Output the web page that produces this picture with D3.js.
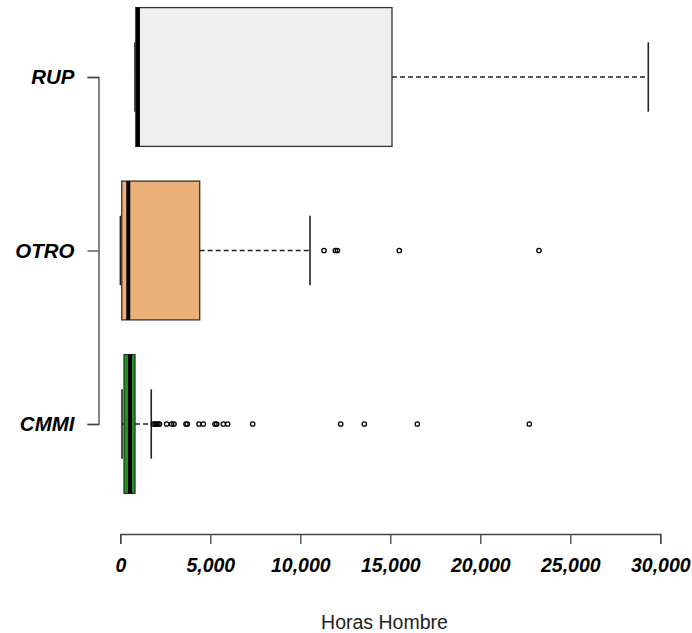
<!DOCTYPE html>
<html>
<head>
<meta charset="utf-8">
<script src="https://cdn.jsdelivr.net/npm/d3@7"></script>
<style>
  html, body { margin: 0; padding: 0; background: #ffffff; }
  svg { display: block; }
</style>
</head>
<body>
<svg id="chart" width="692" height="633"></svg>
<script>
// Horizontal box plot of man-hours by methodology
const categories = ["CMMI", "OTRO", "RUP"];
const whiskerLow  = [94, 5, 817];
const quartile1   = [206, 80, 860];
const medians     = [539, 444, 980];
const quartile3   = [817, 4411, 15094];
const whiskerHigh = [1720, 10539, 29333];
const outliersCMMI = [1844, 1928, 2011, 2094, 2178, 2578, 2856, 2983, 3650, 3722,
                      4372, 4611, 5261, 5356, 5722, 5967, 7356, 12244, 13556, 16500, 22722];
const outliersOTRO = [11317, 11950, 12060, 15500, 23261];
const outliersRUP  = [];
const outliers = [outliersCMMI, outliersOTRO, outliersRUP];
const fills = ["#1a961a", "#ebb078", "#f0f0f0"];
const xTicks = [0, 5000, 10000, 15000, 20000, 25000, 30000];
const xTitle = "Horas Hombre";

const svg = d3.select("#chart");
const font = "'Liberation Sans', Arial, sans-serif";

const x = d3.scaleLinear().domain([0, 30000]).range([120.3, 660.3]);
const y = d3.scaleLinear().domain([1, 3]).range([424, 77]);
const unit = Math.abs(y(2) - y(1));
const boxHalf = unit * 0.4;
const capHalf = unit * 0.2;
const axisY = 534;
const axisX = 98.5;

const rows = categories.map((c, i) => ({
  name: c, idx: i + 1,
  lo: whiskerLow[i], q1: quartile1[i], med: medians[i], q3: quartile3[i], hi: whiskerHigh[i],
  out: outliers[i], fill: fills[i]
}));

const g = svg.append("g");
const box = g.selectAll("g.box").data(rows).join("g").attr("class", "box");

// whiskers (dashed)
box.append("line")
  .attr("x1", d => x(d.q3)).attr("x2", d => x(d.hi))
  .attr("y1", d => y(d.idx)).attr("y2", d => y(d.idx))
  .attr("stroke", "#222").attr("stroke-width", 1.4).attr("stroke-dasharray", "5,3");
box.append("line")
  .attr("x1", d => x(d.lo)).attr("x2", d => x(d.q1))
  .attr("y1", d => y(d.idx)).attr("y2", d => y(d.idx))
  .attr("stroke", "#222").attr("stroke-width", 1.4).attr("stroke-dasharray", "5,3");

// whisker caps
box.append("line")
  .attr("x1", d => x(d.hi)).attr("x2", d => x(d.hi))
  .attr("y1", d => y(d.idx) - capHalf).attr("y2", d => y(d.idx) + capHalf)
  .attr("stroke", "#222").attr("stroke-width", 1.6);
box.append("line")
  .attr("x1", d => x(d.lo)).attr("x2", d => x(d.lo))
  .attr("y1", d => y(d.idx) - capHalf).attr("y2", d => y(d.idx) + capHalf)
  .attr("stroke", "#222").attr("stroke-width", 1.6);

// boxes
box.append("rect")
  .attr("x", d => x(d.q1)).attr("width", d => x(d.q3) - x(d.q1))
  .attr("y", d => y(d.idx) - boxHalf).attr("height", boxHalf * 2)
  .attr("fill", d => d.fill).attr("stroke", "#333").attr("stroke-width", 1.3);

// medians
box.append("line")
  .attr("x1", d => x(d.med)).attr("x2", d => x(d.med))
  .attr("y1", d => y(d.idx) - boxHalf).attr("y2", d => y(d.idx) + boxHalf)
  .attr("stroke", "#000").attr("stroke-width", 4);

// outliers
box.each(function(d) {
  d3.select(this).selectAll("circle").data(d.out).join("circle")
    .attr("cx", v => x(v)).attr("cy", y(d.idx)).attr("r", 2.2)
    .attr("fill", "none").attr("stroke", "#000").attr("stroke-width", 1.3);
});

// x axis
const xAxis = svg.append("g").attr("transform", `translate(0,${axisY})`)
  .call(d3.axisBottom(x).tickValues(xTicks).tickFormat(d3.format(",")).tickSizeOuter(0).tickSize(10).tickPadding(14));
xAxis.select(".domain").attr("stroke", "#444").attr("stroke-width", 1.3);
xAxis.selectAll(".tick line").attr("stroke", "#444").attr("stroke-width", 1.3);
xAxis.selectAll(".tick text")
  .attr("font-family", font).attr("font-size", 19.5).attr("font-weight", "bold")
  .attr("font-style", "italic").attr("fill", "#000");

// y axis
const yAxis = svg.append("g").attr("transform", `translate(${axisX},0)`)
  .call(d3.axisLeft(y).tickValues([1, 2, 3]).tickFormat(v => categories[v - 1])
    .tickSizeOuter(0).tickSize(11).tickPadding(13));
yAxis.select(".domain").attr("stroke", "#444").attr("stroke-width", 1.3);
yAxis.selectAll(".tick line").attr("stroke", "#444").attr("stroke-width", 1.3);
yAxis.selectAll(".tick text")
  .attr("font-family", font).attr("font-size", 20.5).attr("font-weight", "bold")
  .attr("font-style", "italic").attr("fill", "#000");

// axis title
svg.append("text")
  .attr("x", 384.5).attr("y", 629)
  .attr("text-anchor", "middle")
  .attr("font-family", font).attr("font-size", 19.5)
  .attr("fill", "#222")
  .text(xTitle);
</script>
</body>
</html>
